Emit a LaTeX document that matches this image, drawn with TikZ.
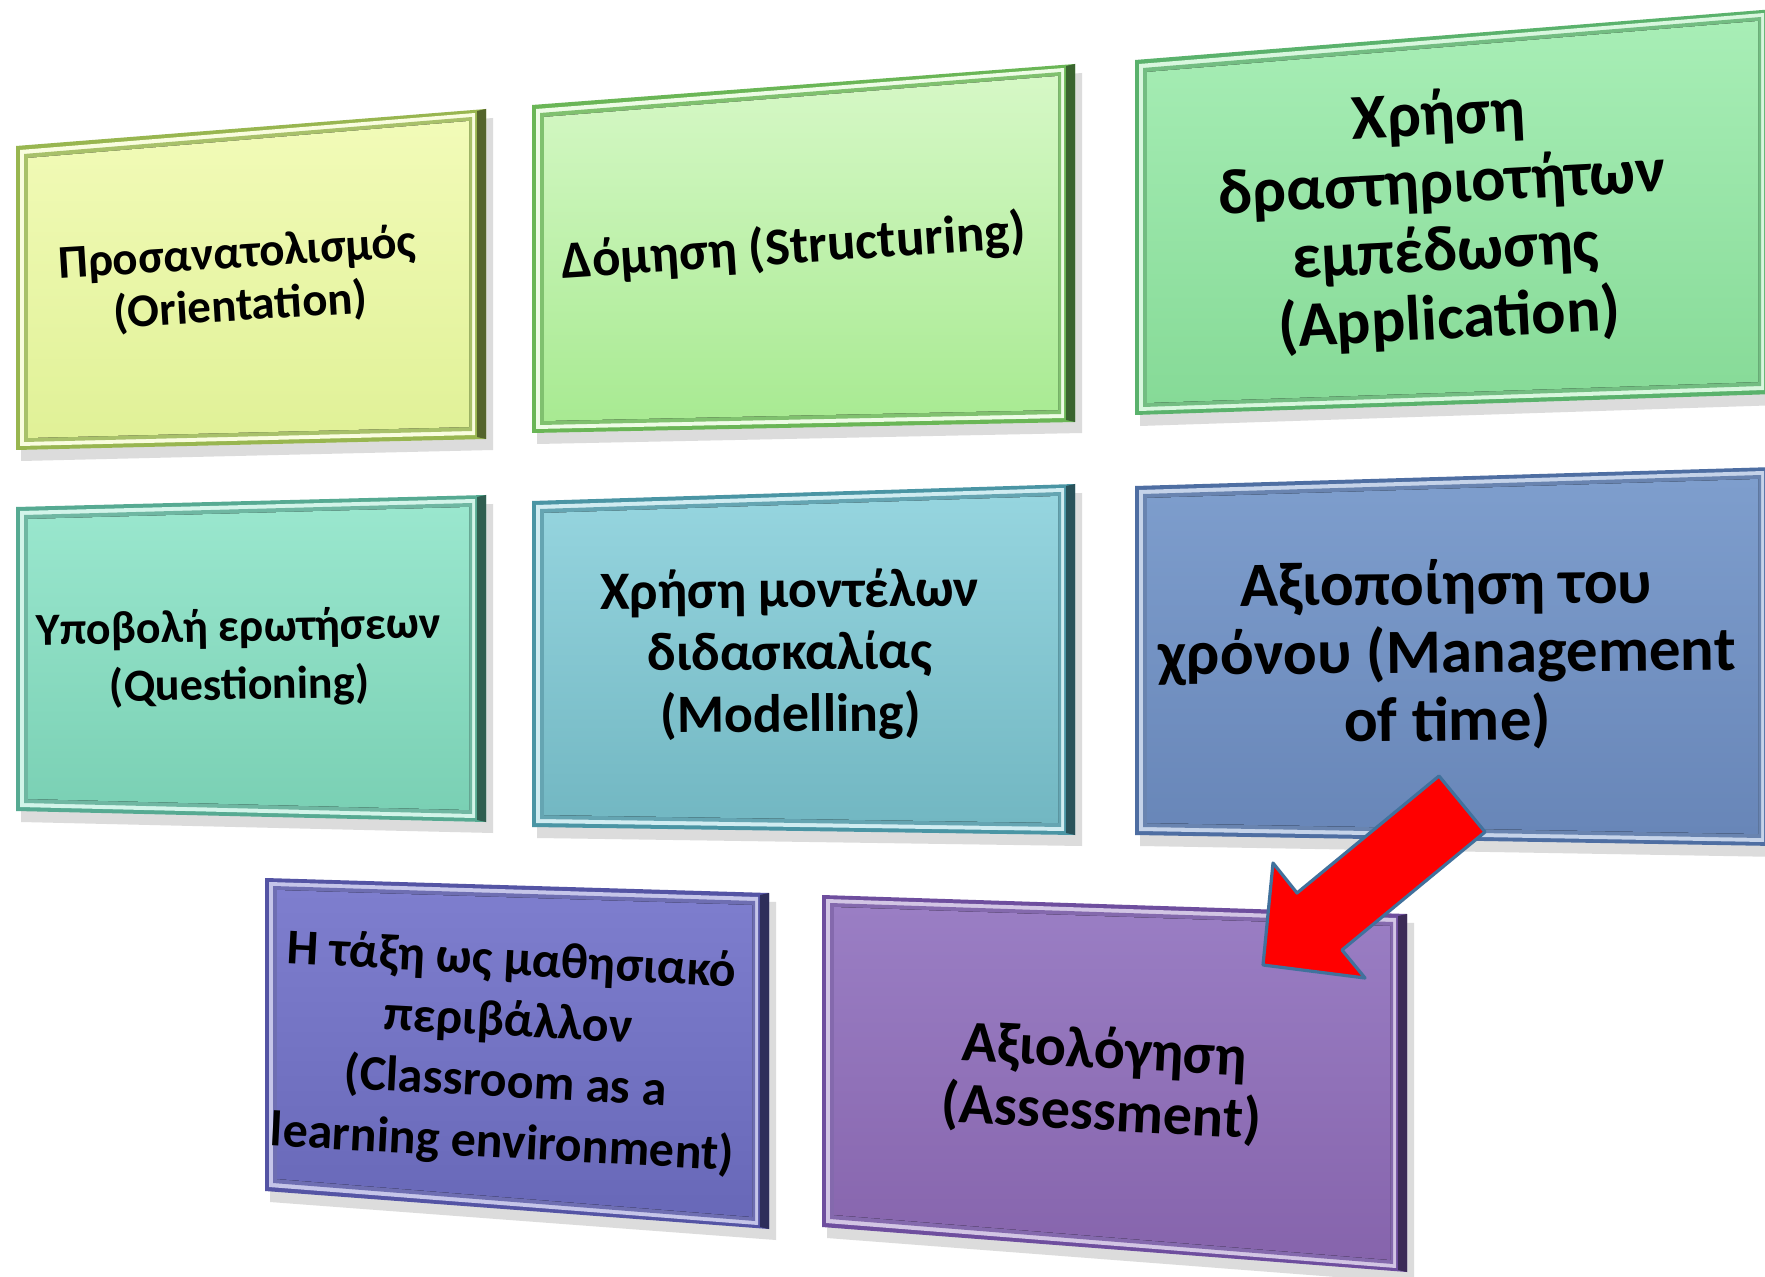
\documentclass[tikz,border=0pt]{standalone}
\usepackage{fontspec}
\setmainfont{Carlito}
\usetikzlibrary{calc}

\definecolor{orientTop}{HTML}{F2FBB8}\definecolor{orientBot}{HTML}{E0F197}\definecolor{orientRim}{HTML}{98B650}
\definecolor{structTop}{HTML}{D6F8C6}\definecolor{structBot}{HTML}{A8EA92}\definecolor{structRim}{HTML}{6AB656}
\definecolor{applTop}{HTML}{A8EEB6}\definecolor{applBot}{HTML}{86DA97}\definecolor{applRim}{HTML}{5AB26C}
\definecolor{questTop}{HTML}{9AE7CE}\definecolor{questBot}{HTML}{7AD0B4}\definecolor{questRim}{HTML}{56AA92}
\definecolor{modelTop}{HTML}{96D5DF}\definecolor{modelBot}{HTML}{72B7C2}\definecolor{modelRim}{HTML}{4A95A4}
\definecolor{timeTop}{HTML}{7E9ECD}\definecolor{timeBot}{HTML}{6886B8}\definecolor{timeRim}{HTML}{4E6EA2}
\definecolor{classTop}{HTML}{7E7ECE}\definecolor{classBot}{HTML}{6868B8}\definecolor{classRim}{HTML}{5454A4}
\definecolor{assessTop}{HTML}{9A7EC4}\definecolor{assessBot}{HTML}{8664AC}\definecolor{assessRim}{HTML}{6E4E9E}
\definecolor{arrowRim}{HTML}{41719C}

\tikzset{lbl/.style={align=center, inner sep=0pt, text=black}}

% bevelled panel: #1 name, #2 top colour, #3 bottom colour, #4 rim, #5-#8 corners nw ne se sw
\newcommand{\bevelbox}[8]{%
  \coordinate (#1-nw) at #5; \coordinate (#1-ne) at #6;
  \coordinate (#1-se) at #7; \coordinate (#1-sw) at #8;
  \fill[black!30, opacity=.45] ($(#1-nw)+(5,9)$) -- ($(#1-ne)+(7,9)$) -- ($(#1-se)+(7,11)$) -- ($(#1-sw)+(5,11)$) -- cycle;
  \fill[#4] (#1-nw) -- (#1-ne) -- (#1-se) -- (#1-sw) -- cycle;
  \fill[#4!55!black] (#1-ne) -- (#1-se) -- ($(#1-se)+(-9,-2)$) -- ($(#1-ne)+(-9,2)$) -- cycle;
  \fill[#2!45!white] ($(#1-nw)+(4,4)$) -- ($(#1-ne)+(-11,4)$) -- ($(#1-se)+(-11,-4)$) -- ($(#1-sw)+(4,-4)$) -- cycle;
  \fill[#4!85!white] ($(#1-nw)+(8,8)$) -- ($(#1-ne)+(-14,8)$) -- ($(#1-se)+(-14,-8)$) -- ($(#1-sw)+(8,-8)$) -- cycle;
  \fill[top color=#2, bottom color=#3] ($(#1-nw)+(12,12)$) -- ($(#1-ne)+(-17,12)$) -- ($(#1-se)+(-17,-12)$) -- ($(#1-sw)+(12,-12)$) -- cycle;
}

\begin{document}
\begin{tikzpicture}[x=0.5pt, y=-0.5pt]
\useasboundingbox[fill=white] (0,0) rectangle (1765,1277);

%panels
\bevelbox{orient}{orientTop}{orientBot}{orientRim}{(16,146)}{(486,109)}{(486,439)}{(16,450)}
\bevelbox{struct}{structTop}{structBot}{structRim}{(532,105)}{(1075,64)}{(1075,422)}{(532,433)}
\bevelbox{appl}{applTop}{applBot}{applRim}{(1135,60)}{(1775,9)}{(1775,394)}{(1135,415)}
\bevelbox{quest}{questTop}{questBot}{questRim}{(16,507)}{(486,495)}{(486,822)}{(16,811)}
\bevelbox{model}{modelTop}{modelBot}{modelRim}{(532,501)}{(1075,484)}{(1075,835)}{(532,827)}
\bevelbox{time}{timeTop}{timeBot}{timeRim}{(1135,486)}{(1775,467)}{(1775,846)}{(1135,835)}
\bevelbox{class}{classTop}{classBot}{classRim}{(265,878)}{(769,893)}{(769,1229)}{(265,1191)}
\bevelbox{assess}{assessTop}{assessBot}{assessRim}{(822,895)}{(1407,914)}{(1407,1272)}{(822,1227)}

%labels
\node[lbl, rotate=3.5, font=\fontsize{23.5}{26.5}\selectfont\bfseries] (orientText) at (239,281) {Προσανατολισμός\\(Orientation)};
\node[lbl, rotate=3.8, font=\fontsize{26.5}{28}\selectfont\bfseries] (structText) at (794,248) {Δόμηση (Structuring)};
\node[lbl, rotate=3, font=\fontsize{32}{34}\selectfont\bfseries] (applText) at (1444,219) {Χρήση\\δραστηριοτήτων\\εμπέδωσης\\(Application)};
\node[lbl, rotate=1, font=\fontsize{23}{29}\selectfont\bfseries] (questText) at (239,658) {Υποβολή ερωτήσεων\\(Questioning)};
\node[lbl, rotate=0.5, font=\fontsize{27}{31}\selectfont\bfseries] (modelText) at (790,655) {Χρήση μοντέλων\\διδασκαλίας\\(Modelling)};
\node[lbl, rotate=0.5, font=\fontsize{31.5}{34}\selectfont\bfseries] (timeText) at (1447,655) {Αξιοποίηση του\\χρόνου (Management\\of time)};
\node[lbl, rotate=-3, font=\fontsize{25}{30.5}\selectfont\bfseries] (classText) at (507,1053) {Η τάξη ως μαθησιακό\\περιβάλλον\\(Classroom as a\\learning environment)};
\node[lbl, rotate=-3, font=\fontsize{29}{31}\selectfont\bfseries] (assessText) at (1103,1083) {Αξιολόγηση\\(Assessment)};

%red arrow
\coordinate (endA) at (1439,776);  \coordinate (endB) at (1485,832);
\coordinate (neckB) at (1342,950); \coordinate (wingB) at (1365,978);
\coordinate (tip) at (1263,965);
\coordinate (wingA) at (1273,863); \coordinate (neckA) at (1297,893);
\filldraw[fill=red, draw=arrowRim, line width=1.6pt, line join=round]
  (endA) -- (endB) -- (neckB) -- (wingB) -- (tip) -- (wingA) -- (neckA) -- cycle;
\end{tikzpicture}
\end{document}
